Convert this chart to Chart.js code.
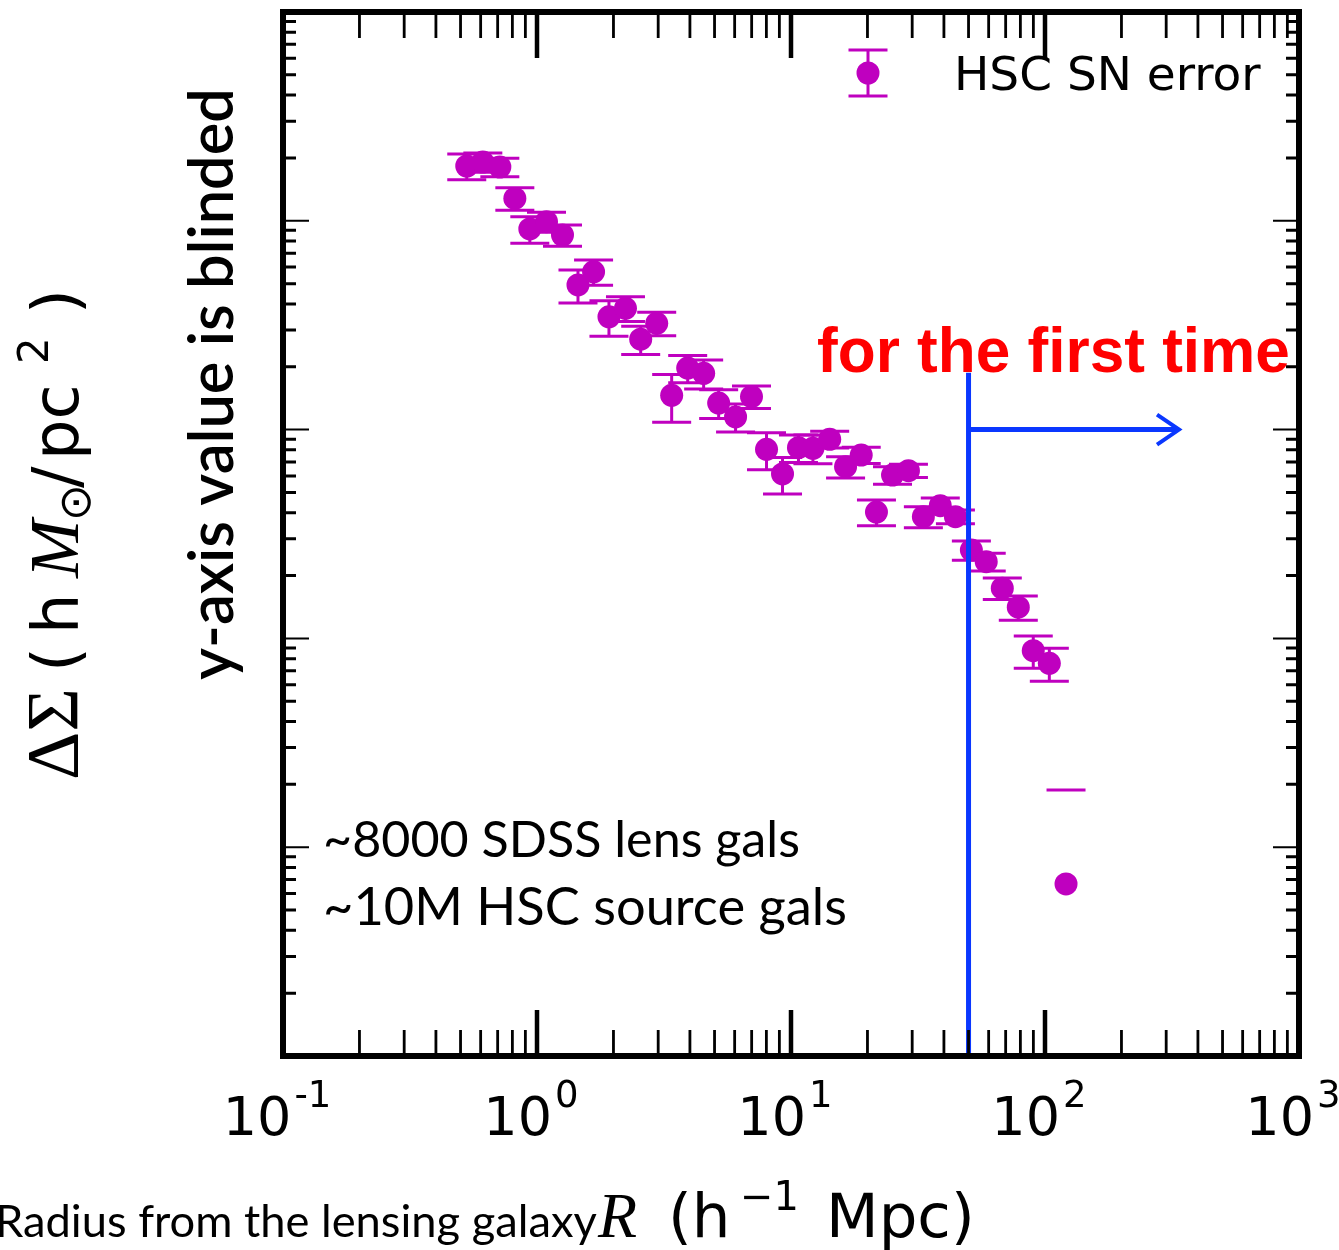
<!DOCTYPE html>
<html>
<head>
<meta charset="utf-8">
<script src="https://cdn.jsdelivr.net/npm/chart.js@4.4.0/dist/chart.umd.min.js"></script>
<style>
  html, body { margin: 0; padding: 0; background: #ffffff; }
  canvas { display: block; }
</style>
</head>
<body>
<canvas id="profile" width="1339" height="1250"></canvas>
<script>
// Projected radius of each bin (h^-1 Mpc)
const radius = [0.529, 0.612, 0.714, 0.818, 0.937, 1.09, 1.26, 1.45, 1.67, 1.92,
                2.23, 2.56, 2.96, 3.39, 3.92, 4.53, 5.19, 6.05, 6.99, 8.01,
                9.26, 10.7, 12.2, 14.2, 16.4, 18.9, 21.7, 25.1, 29.0, 33.2,
                38.7, 44.4, 51.3, 58.7, 67.9, 78.5, 89.9, 104, 121];
// Excess surface density in each bin (blinded units)
const deltaSigma = [183, 191, 181, 128, 91.4, 99.0, 85.5, 49.3, 57.0, 34.7,
                    38.1, 27.1, 32.3, 14.6, 19.7, 18.6, 13.4, 11.5, 14.4, 8.05,
                    6.13, 8.19, 8.14, 8.99, 6.64, 7.55, 4.03, 6.06, 6.36, 3.83,
                    4.32, 3.83, 2.65, 2.33, 1.74, 1.41, 0.873, 0.760, 0.0667];
// Symmetric 1-sigma shape-noise error of each bin
const deltaSigmaErr = [25.9, 20.0, 18.3, 15.8, 13.3, 10.8, 10.0, 8.86, 7.88, 6.71,
                       5.19, 4.2, 4.15, 3.76, 2.93, 2.94, 2.1, 1.75, 1.79, 1.62,
                       1.22, 1.23, 1.28, 0.82, 0.78, 0.67, 0.57, 0.58, 0.46, 0.445,
                       0.38, 0.29, 0.28, 0.228, 0.204, 0.187, 0.154, 0.137, 0.121];
// Decade tick labels on the radius axis: base 10 and exponent
const xTickValues = [0.1, 1, 10, 100, 1000];
const xTickExponents = ['-1', '0', '1', '2', '3'];
// Scale limits
const xLimits = [0.1, 1000];
const yLimits = [0.01, 1000];
// Boundary marker: radius of the vertical line, its top, and the arrow's level and tip
const boundaryRadius = [50];
const boundaryTop = [18.7];
const arrowLevel = [10];
const arrowTip = [337];

const MAGENTA = '#bf00bf';
const BLUE = '#0a37ff';
const CAP = 19.5;

// Error bars (drawn beneath the markers)
const errorBars = {
  id: 'errorBars',
  beforeDatasetsDraw(chart) {
    const { ctx, scales: { x, y } } = chart;
    ctx.save();
    ctx.strokeStyle = MAGENTA;
    ctx.lineWidth = 3;
    radius.forEach((r, i) => {
      const v = deltaSigma[i], e = deltaSigmaErr[i];
      const px = x.getPixelForValue(r);
      const hi = y.getPixelForValue(v + e);
      ctx.beginPath();
      if (v - e > 0) {
        const lo = y.getPixelForValue(v - e);
        ctx.moveTo(px, lo); ctx.lineTo(px, hi);
        ctx.moveTo(px - CAP, lo); ctx.lineTo(px + CAP, lo);
      }
      ctx.moveTo(px - CAP, hi); ctx.lineTo(px + CAP, hi);
      ctx.stroke();
    });
    ctx.restore();
  }
};

function fitFont(ctx, text, weight, family, width) {
  ctx.font = `${weight} 100px ${family}`;
  const w = ctx.measureText(text).width;
  return `${weight} ${(100 * width / w).toFixed(2)}px ${family}`;
}

// Overlays, frame, ticks and labels
const decorations = {
  id: 'decorations',
  afterDatasetsDraw(chart) {
    const { ctx, chartArea: a, scales: { x, y } } = chart;
    ctx.save();

    // boundary line with arrow
    const bx = x.getPixelForValue(boundaryRadius[0]);
    const by = y.getPixelForValue(arrowLevel[0]);
    const tipX = x.getPixelForValue(arrowTip[0]);
    ctx.strokeStyle = BLUE;
    ctx.lineWidth = 5;
    ctx.beginPath();
    ctx.moveTo(bx, a.bottom);
    ctx.lineTo(bx, y.getPixelForValue(boundaryTop[0]));
    ctx.moveTo(bx, by);
    ctx.lineTo(tipX, by);
    ctx.stroke();
    ctx.lineWidth = 4;
    ctx.beginPath();
    ctx.moveTo(tipX - 22, by - 15);
    ctx.lineTo(tipX, by);
    ctx.lineTo(tipX - 22, by + 15);
    ctx.stroke();

    // red headline
    ctx.fillStyle = '#ff0000';
    ctx.textBaseline = 'alphabetic';
    ctx.textAlign = 'left';
    ctx.font = fitFont(ctx, 'for the first time', 'bold', '"Liberation Sans", Arial, sans-serif', 473);
    ctx.fillText('for the first time', 817, 372);

    // sample description
    ctx.fillStyle = '#000000';
    ctx.font = fitFont(ctx, '~8000 SDSS lens gals', 'normal', 'Lato, sans-serif', 477);
    ctx.fillText('~8000 SDSS lens gals', a.left + 40, 857);
    ctx.font = fitFont(ctx, '~10M HSC source gals', 'normal', 'Lato, sans-serif', 524);
    ctx.fillText('~10M HSC source gals', a.left + 40, 925);

    // legend
    const lx = 868, ly = 73;
    ctx.strokeStyle = MAGENTA;
    ctx.lineWidth = 3;
    ctx.beginPath();
    ctx.moveTo(lx, ly - 23); ctx.lineTo(lx, ly + 23);
    ctx.moveTo(lx - CAP, ly - 23); ctx.lineTo(lx + CAP, ly - 23);
    ctx.moveTo(lx - CAP, ly + 23); ctx.lineTo(lx + CAP, ly + 23);
    ctx.stroke();
    ctx.fillStyle = MAGENTA;
    ctx.beginPath(); ctx.arc(lx, ly, 11.5, 0, Math.PI * 2); ctx.fill();
    ctx.fillStyle = '#000000';
    ctx.font = '47px "DejaVu Sans"';
    ctx.fillText('HSC SN error', 954, 90);

    // frame
    ctx.strokeStyle = '#000000';
    ctx.lineWidth = 6;
    ctx.strokeRect(a.left, a.top, a.right - a.left, a.bottom - a.top);

    // radius ticks, top and bottom, pointing inward
    for (let d = -1; d <= 3; d++) {
      for (let k = 1; k <= 9; k++) {
        if (d === 3 && k > 1) break;
        const px = x.getPixelForValue(k * Math.pow(10, d));
        const major = k === 1;
        const len = major ? 46 : 26;
        ctx.lineWidth = major ? 4.5 : 2.8;
        ctx.beginPath();
        ctx.moveTo(px, a.bottom); ctx.lineTo(px, a.bottom - len);
        ctx.moveTo(px, a.top); ctx.lineTo(px, a.top + len);
        ctx.stroke();
      }
    }
    // surface-density ticks, left and right, pointing inward
    for (let d = -2; d <= 3; d++) {
      for (let k = 1; k <= 9; k++) {
        if (d === 3 && k > 1) break;
        const py = y.getPixelForValue(k * Math.pow(10, d));
        const major = k === 1;
        const len = major ? 26 : 13;
        ctx.lineWidth = major ? 2 : 3;
        ctx.beginPath();
        ctx.moveTo(a.left, py); ctx.lineTo(a.left + len, py);
        ctx.moveTo(a.right, py); ctx.lineTo(a.right - len, py);
        ctx.stroke();
      }
    }

    // decade tick labels
    ctx.fillStyle = '#000000';
    xTickValues.forEach((v, i) => {
      const px = x.getPixelForValue(v);
      ctx.font = '54px "DejaVu Sans"';
      const wb = ctx.measureText('10').width;
      ctx.font = '37px "DejaVu Sans"';
      const we = ctx.measureText(xTickExponents[i]).width;
      const x0 = px - (wb + 3 + we) / 2 - 6;
      ctx.font = '54px "DejaVu Sans"';
      ctx.fillText('10', x0, 1135);
      ctx.font = '37px "DejaVu Sans"';
      ctx.fillText(xTickExponents[i], x0 + wb + 3, 1107);
    });

    // radius axis title
    ctx.font = fitFont(ctx, 'Radius from the lensing galaxy', 'normal', 'Lato, sans-serif', 602);
    ctx.fillText('Radius from the lensing galaxy', -5, 1237);
    ctx.font = 'italic 64px "Liberation Serif"';
    ctx.fillText('R', 598, 1237);
    ctx.font = '61px "DejaVu Sans"';
    ctx.fillText('(h', 668, 1237);
    ctx.font = '40px "DejaVu Sans"';
    ctx.fillText('\u22121', 740, 1210);
    ctx.font = '61px "DejaVu Sans"';
    ctx.fillText('Mpc)', 826, 1237);

    // surface-density axis titles (rotated)
    ctx.save();
    ctx.translate(78, 780);
    ctx.rotate(-Math.PI / 2);
    ctx.font = '75px "Liberation Serif"';
    ctx.fillText('\u0394\u03a3', 0, 0);
    ctx.font = '64px "DejaVu Sans"';
    ctx.fillText('(', 108, 0);
    ctx.fillText('h', 146, 0);
    ctx.font = 'italic 70px "Liberation Serif"';
    ctx.fillText('M', 202, 0);
    ctx.font = '44px "DejaVu Sans"';
    ctx.fillText('\u2299', 259, 12);
    ctx.font = '64px "DejaVu Sans"';
    ctx.fillText('/', 292, 0);
    ctx.fillText('pc', 320, 0);
    ctx.font = '42px "DejaVu Sans"';
    ctx.fillText('2', 416, -30);
    ctx.font = '64px "DejaVu Sans"';
    ctx.fillText(')', 466, 0);
    ctx.restore();

    ctx.save();
    ctx.translate(233, 680);
    ctx.rotate(-Math.PI / 2);
    ctx.font = fitFont(ctx, 'y-axis value is blinded', '600', 'Lato, sans-serif', 592);
    ctx.fillText('y-axis value is blinded', 0, 0);
    ctx.restore();

    ctx.restore();
  }
};

new Chart(document.getElementById('profile'), {
  type: 'scatter',
  data: {
    datasets: [{
      label: 'HSC SN error',
      data: radius.map((r, i) => ({ x: r, y: deltaSigma[i] })),
      backgroundColor: MAGENTA,
      borderColor: MAGENTA,
      pointRadius: 11.5,
      pointBorderWidth: 0,
      pointHoverRadius: 11.5
    }]
  },
  options: {
    responsive: false,
    animation: false,
    devicePixelRatio: 1,
    events: [],
    layout: { padding: { left: 283, top: 12, right: 40, bottom: 194 } },
    plugins: { legend: { display: false }, tooltip: { enabled: false } },
    scales: {
      x: { type: 'logarithmic', min: xLimits[0], max: xLimits[1], display: false },
      y: { type: 'logarithmic', min: yLimits[0], max: yLimits[1], display: false }
    }
  },
  plugins: [errorBars, decorations]
});
</script>
</body>
</html>
